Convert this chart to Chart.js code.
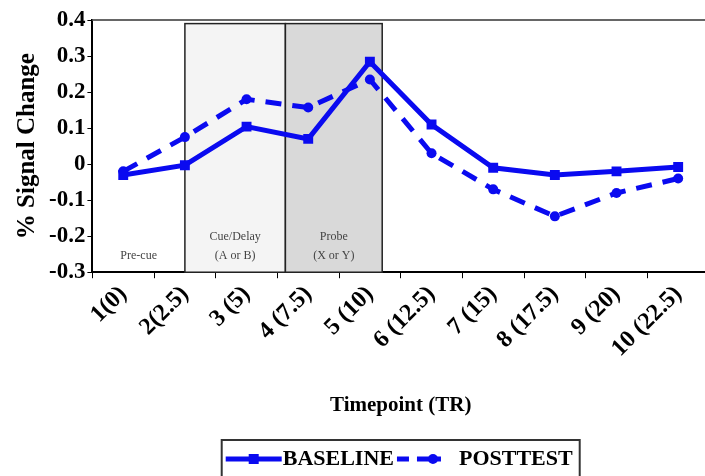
<!DOCTYPE html>
<html>
<head>
<meta charset="utf-8">
<script src="https://cdn.jsdelivr.net/npm/chart.js@4.4.1/dist/chart.umd.min.js"></script>
<style>
  html, body { margin: 0; padding: 0; background: #fff; overflow: hidden; }
  #wrap { width: 716px; height: 476px; }
</style>
</head>
<body>
<div id="wrap"><canvas id="signal__graph" width="716" height="476"></canvas></div>
<script>
// data
const timepoints = ['1(0)', '2(2.5)', '3 (5)', '4 (7.5)', '5 (10)', '6 (12.5)', '7 (15)', '8 (17.5)', '9 (20)', '10 (22.5)'];
const baseline = [-0.03, -0.003, 0.104, 0.07, 0.284, 0.11, -0.01, -0.03, -0.02, -0.008];
const posttest = [-0.02, 0.075, 0.18, 0.157, 0.235, 0.03, -0.07, -0.145, -0.08, -0.04];
const seriesNames = ['BASELINE', 'POSTTEST'];
const yMin = -0.3, yMax = 0.4, yStep = 0.1;

// task phases, in category units along x
const preCueLabel = 'Pre-cue';
const phaseLabels = [['Cue/Delay', '(A or B)'], ['Probe', '(X or Y)']];
const phaseStart = [1, 2.63];
const phaseEnd = [2.63, 4.2];
const phaseTop = 0.39;

const blue = '#0a0af0';
const serif = "'Liberation Serif', 'Times New Roman', serif";

const phasePlugin = {
  id: 'phases',
  beforeDatasetsDraw(chart) {
    const ctx = chart.ctx, x = chart.scales.x, y = chart.scales.y, area = chart.chartArea;
    const fills = ['#f4f4f4', '#d9d9d9'];
    const top = y.getPixelForValue(phaseTop);
    ctx.save();
    phaseStart.forEach(function(s, i){
      const x0 = x.getPixelForValue(s), x1 = x.getPixelForValue(phaseEnd[i]);
      ctx.fillStyle = fills[i];
      ctx.fillRect(x0, top, x1 - x0, area.bottom - top);
      ctx.strokeStyle = '#222';
      ctx.lineWidth = 1.5;
      ctx.strokeRect(x0, top, x1 - x0, area.bottom - top);
    });
    ctx.fillStyle = '#444';
    ctx.font = '12px ' + serif;
    ctx.textAlign = 'center';
    ctx.textBaseline = 'middle';
    const yA = area.bottom - 35, yB = area.bottom - 16;
    ctx.fillText(preCueLabel, (area.left + x.getPixelForValue(phaseStart[0])) / 2, yB);
    phaseLabels.forEach(function(lines, i){
      const cx = (x.getPixelForValue(phaseStart[i]) + x.getPixelForValue(phaseEnd[i])) / 2;
      ctx.fillText(lines[0], cx, yA);
      ctx.fillText(lines[1], cx, yB);
    });
    // top frame line
    ctx.strokeStyle = '#666';
    ctx.lineWidth = 2;
    ctx.beginPath();
    ctx.moveTo(area.left, area.top);
    ctx.lineTo(area.right, area.top);
    ctx.lineTo(area.right, area.bottom);
    ctx.stroke();
    ctx.restore();
  },
  afterDraw(chart) {
    // legend box, centred under the plot area
    const ctx = chart.ctx, area = chart.chartArea;
    const cx = (area.left + area.right) / 2;
    const boxL = cx - 179, boxR = cx + 179, boxT = 440, ly = 459;
    ctx.save();
    ctx.strokeStyle = '#333';
    ctx.lineWidth = 2;
    ctx.strokeRect(boxL, boxT, boxR - boxL, 60);
    ctx.font = 'bold 22px ' + serif;
    ctx.textBaseline = 'middle';
    ctx.fillStyle = '#000';
    ctx.strokeStyle = blue;
    ctx.lineWidth = 5;
    // baseline sample
    let px = boxL + 4;
    ctx.beginPath(); ctx.moveTo(px, ly); ctx.lineTo(px + 56, ly); ctx.stroke();
    ctx.fillStyle = blue;
    ctx.fillRect(px + 23, ly - 5, 10, 10);
    ctx.fillStyle = '#000';
    px += 57;
    ctx.fillText(seriesNames[0], px, ly);
    px += ctx.measureText(seriesNames[0]).width + 3;
    // posttest sample
    ctx.setLineDash([12, 8]);
    ctx.beginPath(); ctx.moveTo(px, ly); ctx.lineTo(px + 44, ly); ctx.stroke();
    ctx.setLineDash([]);
    ctx.fillStyle = blue;
    ctx.beginPath(); ctx.arc(px + 36, ly, 5, 0, Math.PI * 2); ctx.fill();
    ctx.fillStyle = '#000';
    px += 62;
    ctx.fillText(seriesNames[1], px, ly);
    ctx.restore();
  }
};

const data = {
  labels: timepoints,
  datasets: [
    {
      label: seriesNames[0],
      data: baseline,
      borderColor: blue,
      backgroundColor: blue,
      borderWidth: 5,
      pointStyle: 'rect',
      pointRadius: 7,
      pointBorderWidth: 0,
      tension: 0
    },
    {
      label: seriesNames[1],
      data: posttest,
      borderColor: blue,
      backgroundColor: blue,
      borderWidth: 5,
      borderDash: [16, 11],
      pointStyle: 'circle',
      pointRadius: 5,
      pointBorderWidth: 0,
      tension: 0
    }
  ]
};

const chart = new Chart(document.querySelector('#signal__graph'), {
  type: 'line',
  data: data,
  plugins: [phasePlugin],
  options: {
    responsive: false,
    animation: false,
    devicePixelRatio: 1,
    layout: { padding: { top: 20, left: 13, right: 2, bottom: 58 } },
    plugins: {
      legend: { display: false },
      tooltip: { enabled: false }
    },
    scales: {
      x: {
        offset: true,
        grid: { display: true, offset: true, drawOnChartArea: false, drawTicks: true, tickLength: 6, color: '#000' },
        border: { display: true, color: '#000', width: 2 },
        ticks: {
          color: '#000',
          font: { family: serif, size: 24, weight: 'bold' },
          minRotation: 45,
          maxRotation: 45,
          autoSkip: false,
          padding: 2
        },
        title: {
          display: true,
          text: 'Timepoint (TR)',
          color: '#000',
          font: { family: serif, size: 21, weight: 'bold' },
          padding: { top: 28, bottom: 0 }
        }
      },
      y: {
        min: yMin,
        max: yMax,
        grid: { display: true, drawOnChartArea: false, drawTicks: true, tickLength: 5, color: '#000' },
        border: { display: true, color: '#000', width: 2 },
        ticks: {
          stepSize: yStep,
          color: '#000',
          font: { family: serif, size: 23, weight: 'bold' },
          padding: 2,
          callback: function(v){ return String(Math.round(v * 10) / 10); }
        },
        title: {
          display: true,
          text: '% Signal Change',
          color: '#000',
          font: { family: serif, size: 25, weight: 'bold' },
          padding: { top: 0, bottom: 4 }
        }
      }
    }
  }
});
</script>
</body>
</html>
